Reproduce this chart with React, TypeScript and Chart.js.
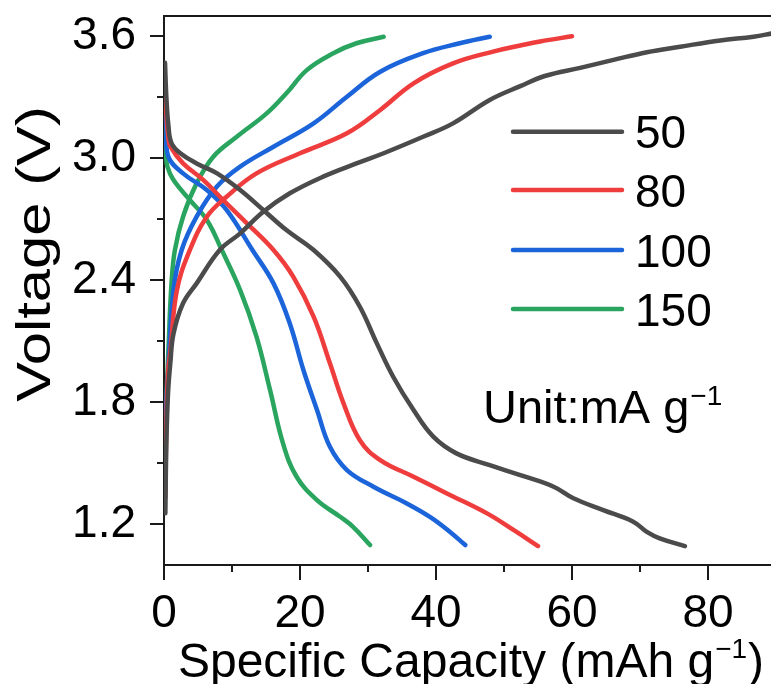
import React, { useEffect, useRef } from 'react';
import { Chart, registerables } from 'chart.js';

Chart.register(...registerables);

// ---- data ----
const rateLabels = ['50', '80', '100', '150'];
const rateColors = ['#4b4b4b', '#ef3d3d', '#1b64da', '#2aa55f'];

// discharge curves [capacity, voltage]
const dis50: [number, number][] = [
  [0.15, 3.47], [0.35, 3.3], [0.65, 3.16], [1.1, 3.075], [2.4, 3.025], [4.8, 2.975], [7.8, 2.926],
  [11.2, 2.844], [14.6, 2.746], [18.0, 2.647], [22.0, 2.549], [25.9, 2.418], [28.8, 2.27],
  [31.3, 2.09], [33.7, 1.926], [36.7, 1.762], [39.6, 1.631], [43.0, 1.549], [47.9, 1.491],
  [52.4, 1.442], [57.3, 1.385], [60.2, 1.328], [64.6, 1.27], [69.0, 1.213], [71.0, 1.163],
  [72.9, 1.131], [76.6, 1.093],
];
const dis80: [number, number][] = [
  [0.15, 3.37], [0.35, 3.22], [0.65, 3.1], [0.95, 3.057], [2.8, 2.975], [5.8, 2.893], [8.7, 2.795],
  [12.2, 2.68], [16.1, 2.549], [19.0, 2.418], [22.0, 2.221], [24.4, 1.992], [26.4, 1.795],
  [28.8, 1.614], [31.8, 1.516], [36.7, 1.434], [41.6, 1.352], [47.5, 1.254], [51.5, 1.17],
  [55.0, 1.093],
];
const dis100: [number, number][] = [
  [0.15, 3.34], [0.35, 3.15], [0.65, 3.008], [2.8, 2.926], [6.3, 2.844], [9.2, 2.746], [13.0, 2.549],
  [16.1, 2.385], [18.5, 2.188], [20.5, 1.959], [22.5, 1.762], [24.4, 1.581], [26.9, 1.467],
  [30.8, 1.385], [35.7, 1.303], [39.1, 1.237], [41.8, 1.17], [44.3, 1.098],
];
const dis150: [number, number][] = [
  [0.15, 3.17], [0.3, 3.02], [0.5, 2.959], [1.4, 2.893], [3.8, 2.795], [6.3, 2.697], [8.5, 2.549],
  [11.2, 2.352], [13.6, 2.123], [15.6, 1.86], [17.5, 1.598], [19.5, 1.434], [22.5, 1.319],
  [25.9, 1.237], [27.8, 1.188], [30.3, 1.098],
];

// charge curves [capacity, voltage]
const chg50: [number, number][] = [
  [0.2, 1.255], [0.35, 1.6], [0.6, 1.85], [0.95, 2.0], [1.4, 2.139], [2.8, 2.287], [4.8, 2.385],
  [8.2, 2.549], [11.2, 2.631], [14.6, 2.737], [18.5, 2.828], [23.4, 2.91], [28.3, 2.975],
  [32.3, 3.025], [38.1, 3.106], [42.5, 3.172], [47.9, 3.287], [52.4, 3.355], [56.0, 3.405],
  [61.2, 3.445], [66.1, 3.484], [71.0, 3.522], [75.9, 3.549], [81.8, 3.58], [86.7, 3.598],
  [89.5, 3.615],
];
const chg80: [number, number][] = [
  [0.2, 1.335], [0.35, 1.7], [0.6, 1.95], [0.95, 2.057], [1.9, 2.352], [3.8, 2.549], [6.3, 2.713],
  [9.2, 2.811], [13.6, 2.926], [20.0, 3.025], [26.9, 3.123], [31.8, 3.238], [36.7, 3.369],
  [42.5, 3.467], [48.4, 3.525], [52.4, 3.555], [55.3, 3.575], [60.0, 3.6],
];
const chg100: [number, number][] = [
  [0.2, 1.48], [0.35, 1.8], [0.65, 1.975], [1.4, 2.352], [2.6, 2.549], [4.8, 2.713], [7.75, 2.86],
  [11.2, 2.959], [16.1, 3.057], [22.0, 3.172], [26.9, 3.303], [31.8, 3.426], [38.1, 3.517],
  [43.5, 3.566], [47.9, 3.598],
];
const chg150: [number, number][] = [
  [0.2, 1.55], [0.35, 1.8], [0.65, 2.057], [1.1, 2.385], [1.6, 2.549], [2.8, 2.713], [4.8, 2.877],
  [7.25, 3.008], [10.7, 3.106], [15.1, 3.221], [18.0, 3.32], [21.0, 3.434], [24.9, 3.517],
  [28.3, 3.566], [32.3, 3.598],
];

const dischargeSets = [dis50, dis80, dis100, dis150];
const chargeSets = [chg50, chg80, chg100, chg150];

const xTickVals = [0, 10, 20, 30, 40, 50, 60, 70, 80];
const xLabelVals = [0, 20, 40, 60, 80];
const yTickVals = [1.2, 1.5, 1.8, 2.1, 2.4, 2.7, 3.0, 3.3, 3.6];
const yLabelVals = [1.2, 1.8, 2.4, 3.0, 3.6];
const xMin = 0;
const xMax = 89.26;
const yMin = 1.0;
const yMax = 3.7;

const xTitleMain = 'Specific Capacity (mAh g';
const xTitleSup = '\u22121';
const xTitleEnd = ')';
const yTitle = 'Voltage (V)';
const unitMain = 'Unit:mA g';
const unitSup = '\u22121';

const FONT = "'Liberation Sans', Arial, sans-serif";
const AXIS_COLOR = '#1a1a1a';

const isIn = (arr: number[], v: number) => arr.some((a) => Math.abs(a - v) < 1e-6);

const decorPlugin = {
  id: 'decor',
  beforeDatasetsDraw(chart: any) {
    const { ctx, chartArea: ca, scales } = chart;
    const xs = scales.x;
    const ys = scales.y;
    ctx.save();
    ctx.strokeStyle = AXIS_COLOR;
    ctx.lineWidth = 2;
    ctx.lineCap = 'butt';
    ctx.beginPath();
    ctx.moveTo(ca.left, ca.top);
    ctx.lineTo(ca.right + 2, ca.top);
    ctx.moveTo(ca.left, ca.top - 1);
    ctx.lineTo(ca.left, ca.bottom + 1);
    ctx.moveTo(ca.left - 1, ca.bottom);
    ctx.lineTo(ca.right + 2, ca.bottom);
    ctx.stroke();
    ctx.beginPath();
    xTickVals.forEach((v) => {
      const px = Math.round(xs.getPixelForValue(v));
      const len = isIn(xLabelVals, v) ? 15 : 7;
      ctx.moveTo(px, ca.bottom);
      ctx.lineTo(px, ca.bottom + len);
    });
    yTickVals.forEach((v) => {
      const py = Math.round(ys.getPixelForValue(v));
      const len = isIn(yLabelVals, v) ? 14 : 7;
      ctx.moveTo(ca.left, py);
      ctx.lineTo(ca.left - len, py);
    });
    ctx.stroke();
    ctx.restore();
  },
  afterDraw(chart: any) {
    const { ctx } = chart;
    ctx.save();
    ctx.fillStyle = '#000';
    // y title (stretched along its length like the reference)
    ctx.save();
    ctx.translate(50, 254);
    ctx.rotate(-Math.PI / 2);
    ctx.scale(1.22, 1);
    ctx.font = `49px ${FONT}`;
    ctx.textAlign = 'center';
    ctx.textBaseline = 'alphabetic';
    ctx.fillText(yTitle, 0, 0);
    ctx.restore();

    // x title with superscript
    ctx.textBaseline = 'alphabetic';
    ctx.textAlign = 'left';
    const big = `48px ${FONT}`;
    const small = `28px ${FONT}`;
    ctx.font = big;
    const w1 = ctx.measureText(xTitleMain).width;
    const w3 = ctx.measureText(xTitleEnd).width;
    ctx.font = small;
    const w2 = ctx.measureText(xTitleSup).width;
    const total = w1 + w2 + w3 + 2;
    let tx = 471 - total / 2;
    const ty = 677;
    ctx.font = big;
    ctx.fillText(xTitleMain, tx, ty);
    tx += w1 + 1;
    ctx.font = small;
    ctx.fillText(xTitleSup, tx, ty - 19);
    tx += w2 + 1;
    ctx.font = big;
    ctx.fillText(xTitleEnd, tx, ty);

    // unit text
    ctx.font = `47px ${FONT}`;
    const uw = ctx.measureText(unitMain).width;
    ctx.fillText(unitMain, 483, 423);
    ctx.font = small;
    ctx.fillText(unitSup, 483 + uw + 1, 423 - 18);

    // legend
    const legY = [131.7, 190, 250, 309];
    rateLabels.forEach((lab, i) => {
      ctx.strokeStyle = rateColors[i];
      ctx.lineWidth = 4.5;
      ctx.lineCap = 'round';
      ctx.beginPath();
      ctx.moveTo(513, legY[i]);
      ctx.lineTo(622, legY[i]);
      ctx.stroke();
      ctx.font = `46px ${FONT}`;
      ctx.fillStyle = '#000';
      ctx.textAlign = 'left';
      ctx.fillText(lab, 635, legY[i] + 16.5);
    });
    ctx.restore();
  },
};

export default function App() {
  const canvasRef = useRef<HTMLCanvasElement | null>(null);

  useEffect(() => {
    const canvas = canvasRef.current;
    if (!canvas) return;
    const datasets: any[] = [];
    const mk = (label: string, pts: [number, number][], color: string) => ({
      label,
      data: pts.map(([x, y]) => ({ x, y })),
      borderColor: color,
      backgroundColor: color,
      borderWidth: 4.5,
      pointRadius: 0,
      fill: false,
      tension: 0.4,
      borderCapStyle: 'round',
      borderJoinStyle: 'round',
    });
    rateLabels.forEach((lab, i) => {
      datasets.push(mk(`${lab} discharge`, dischargeSets[i], rateColors[i]));
      datasets.push(mk(`${lab} charge`, chargeSets[i], rateColors[i]));
    });

    const chart = new Chart(canvas, {
      type: 'line',
      data: { datasets },
      options: {
        animation: false,
        responsive: false,
        devicePixelRatio: 1,
        layout: { padding: { top: 16, left: 0, right: 0, bottom: 0 } },
        plugins: {
          legend: { display: false },
          tooltip: { enabled: false },
          title: { display: false },
        },
        scales: {
          x: {
            type: 'linear',
            min: xMin,
            max: xMax,
            grid: { display: false, drawTicks: false },
            border: { display: false },
            afterBuildTicks: (scale: any) => {
              scale.ticks = xTickVals.map((v) => ({ value: v }));
            },
            afterFit: (scale: any) => {
              scale.height = 119;
              scale.paddingLeft = 0;
              scale.paddingRight = 0;
            },
            ticks: {
              autoSkip: false,
              maxRotation: 0,
              minRotation: 0,
              padding: 22,
              color: '#000',
              font: { family: FONT, size: 46 },
              callback: (v: any) => (isIn(xLabelVals, Number(v)) ? String(v) : ''),
            },
          },
          y: {
            type: 'linear',
            min: yMin,
            max: yMax,
            grid: { display: false, drawTicks: false },
            border: { display: false },
            afterBuildTicks: (scale: any) => {
              scale.ticks = yTickVals.map((v) => ({ value: v }));
            },
            afterFit: (scale: any) => {
              scale.width = 164;
              scale.paddingTop = 0;
              scale.paddingBottom = 0;
            },
            ticks: {
              autoSkip: false,
              padding: 28,
              color: '#000',
              font: { family: FONT, size: 46 },
              callback: (v: any) => (isIn(yLabelVals, Number(v)) ? Number(v).toFixed(1) : ''),
            },
          },
        },
      },
      plugins: [decorPlugin],
    });
    return () => chart.destroy();
  }, []);

  return (
    <div style={{ position: 'fixed', left: 0, top: 0, width: 771, height: 684, background: '#fff' }}>
      <canvas ref={canvasRef} width={771} height={684} style={{ width: 771, height: 684, display: 'block' }} />
    </div>
  );
}
